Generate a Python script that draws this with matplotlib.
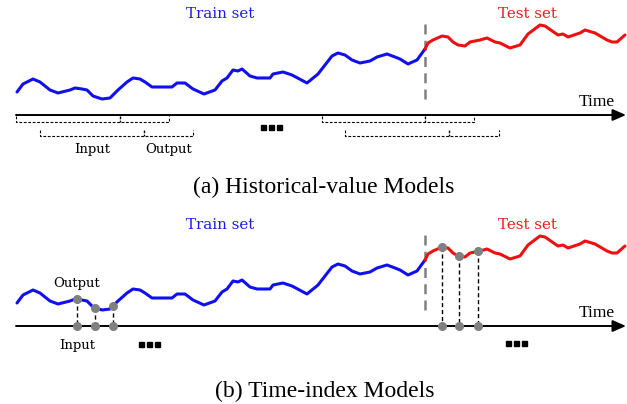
import numpy as np
import matplotlib.pyplot as plt

# Series (time position, value) (panel a frame)
train_t = [17, 23, 33, 40, 50, 58, 70, 75, 82, 87, 93, 102, 110, 118, 127, 133, 140, 145, 152,
           168, 172, 177, 185, 193, 204, 215, 222, 227, 233, 238, 242, 250, 257, 270, 273, 283,
           292, 307, 318, 325, 332, 338, 345, 352, 360, 370, 377, 387, 395, 400, 408, 417, 425]
train_v = [92, 84, 79, 82, 90, 93, 90, 88, 89, 90, 96, 99, 98, 90, 82, 78, 79, 82, 87,
           87, 87, 83, 83, 89, 94, 90, 81, 78, 70, 71, 69, 76, 78, 78, 74, 72,
           75, 83, 74, 65, 56, 53, 55, 60, 63, 61, 57, 54, 57, 59, 64, 60, 49]
test_t = [425, 428, 433, 442, 448, 453, 458, 465, 470, 480, 487, 495, 500, 510, 520, 528,
          540, 545, 558, 563, 568, 580, 585, 595, 607, 612, 617, 625]
test_v = [49, 43, 40, 36, 37, 42, 45, 46, 42, 40, 38, 42, 43, 48, 45, 34,
          25, 26, 35, 34, 37, 33, 30, 33, 40, 42, 42, 35]

split_t = 425
# sliding windows for historical-value models: (start, split, end)
windows_row1 = [(16, 120, 169), (322, 425, 474)]
windows_row2 = [(40, 144, 193), (345, 449, 499)]
# time-index sample points
train_points = [77, 95, 113]
test_points = [442, 459, 478]

offset_b = 211
axis_y = 115

fig = plt.figure(figsize=(6.27, 4.04), dpi=100)
ax = fig.add_axes([0, 0, 1, 1])
ax.set_xlim(0, 627)
ax.set_ylim(404, 0)
ax.axis('off')

serif = ['Liberation Serif', 'DejaVu Serif']
labfont = ['DejaVu Serif']

def panel(off):
    tv = np.array(train_v) + off
    sv = np.array(test_v) + off
    ax.plot(train_t, tv, color='#1010ee', lw=2.2, solid_capstyle='round', zorder=3)
    ax.plot(test_t, sv, color='#ee1010', lw=2.2, solid_capstyle='round', zorder=3)
    ax.plot([split_t, split_t], [24 + off, 103 + off], color='#808080', lw=1.8,
            ls=(0, (4, 2.5)), zorder=2)
    ax.annotate('', xy=(626, axis_y + off), xytext=(16, axis_y + off),
                arrowprops=dict(arrowstyle='-|>,head_length=0.8,head_width=0.35',
                                color='black', lw=1.4, shrinkA=0, shrinkB=0))
    ax.text(220, 14 + off, 'Train set', color='#1a1aee', fontsize=10.8, family=labfont,
            ha='center', va='center')
    ax.text(527, 14 + off, 'Test set', color='#ee1a1a', fontsize=10.8, family=labfont,
            ha='center', va='center')
    ax.text(615, 102 + off, 'Time', color='black', fontsize=12.5, family=serif,
            ha='right', va='center')
    return tv, sv

def dots(xc, y):
    for k in range(3):
        ax.add_patch(plt.Rectangle((xc - 10 + k * 8 - 2.5, y - 2.5), 5, 5, color='black'))

# Panel (a)
panel(0)
for rows, yt, yb in ((windows_row1, 116, 122), (windows_row2, 130, 136)):
    for s, m, e in rows:
        ax.plot([s, s, e, e], [yt, yb, yb, yt], color='black', lw=0.8, ls=(0, (2.5, 1.5)))
        ax.plot([m, m], [yt, yb], color='black', lw=1.0, ls=(0, (2, 1)))
ax.text(92, 149, 'Input', fontsize=9.5, family=labfont, ha='center', va='center')
ax.text(169, 150, 'Output', fontsize=9.5, family=labfont, ha='center', va='center')
dots(273, 127)
ax.text(324, 187, '(a) Historical-value Models', fontsize=17, family=serif,
        ha='center', va='center')

# Panel (b)
tvb, svb = panel(offset_b)
base = axis_y + offset_b
for pts, tt, vv in ((train_points, train_t, tvb), (test_points, test_t, svb)):
    for p in pts:
        yv = np.interp(p, tt, vv)
        ax.plot([p, p], [yv, base], color='black', lw=1.0, ls=(0, (3, 2)), zorder=4)
        ax.plot([p, p], [yv, base], 'o', color='#808080', ms=5.5, zorder=5)
ax.text(77, 284, 'Output', fontsize=9.5, family=labfont, ha='center', va='center')
ax.text(77, 346, 'Input', fontsize=9.5, family=labfont, ha='center', va='center')
dots(151, 344)
dots(518, 343)
ax.text(325, 391, '(b) Time-index Models', fontsize=17, family=serif,
        ha='center', va='center')

fig.savefig('out.png', dpi=100)
